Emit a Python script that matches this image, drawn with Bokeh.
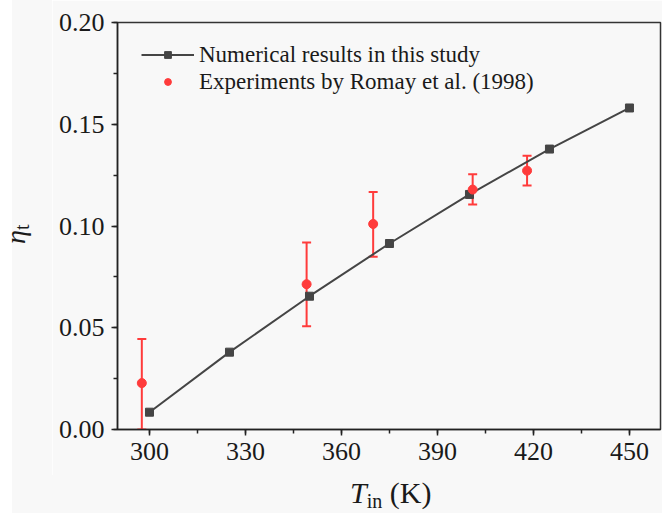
from bokeh.plotting import figure
from bokeh.models import (ColumnDataSource, Whisker, TeeHead, Legend, LegendItem, Div,
                          SingleIntervalTicker, NumeralTickFormatter, Range1d, Spacer)
from bokeh.layouts import column, row
from bokeh.embed import file_html
from bokeh.resources import INLINE

# Numerical results in this study
num_T = [300, 325, 350, 375, 400, 425, 450]
num_eta = [0.0085, 0.038, 0.0655, 0.0914, 0.1155, 0.1378, 0.158]

# Experiments by Romay et al. (1998)
exp_T = [297.6, 349.1, 369.9, 401.0, 418.0]
exp_eta = [0.0228, 0.0714, 0.1010, 0.1179, 0.1272]
exp_upper = [0.0445, 0.0919, 0.1167, 0.1254, 0.1345]
exp_lower = [0.0, 0.0507, 0.0849, 0.1106, 0.1199]

legend_labels = ["Numerical results in this study", "Experiments by Romay et al. (1998)"]

BG = "#f8f8f8"
RED = "#ff3b3b"
GREY = "#454545"
TXT = "#1a1a1a"
SERIF = "Liberation Serif"

num_src = ColumnDataSource(dict(T=num_T, eta=num_eta))
exp_src = ColumnDataSource(dict(T=exp_T, eta=exp_eta, upper=exp_upper, lower=exp_lower))

p = figure(width=610, height=475, output_backend="svg", toolbar_location=None,
           x_range=Range1d(290, 459.7), y_range=Range1d(0, 0.2),
           min_border_left=65, min_border_right=2, min_border_top=22, min_border_bottom=46,
           margin=0)
p.background_fill_color = BG
p.border_fill_color = BG
p.outline_line_color = "#333333"
p.outline_line_width = 1.5
p.xgrid.visible = False
p.ygrid.visible = False

p.xaxis.ticker = SingleIntervalTicker(interval=30, num_minor_ticks=2)
p.yaxis.ticker = SingleIntervalTicker(interval=0.05, num_minor_ticks=2)
p.xaxis.formatter = NumeralTickFormatter(format="0")
p.yaxis.formatter = NumeralTickFormatter(format="0.00")
for ax in (p.xaxis, p.yaxis):
    ax.axis_line_color = "#222222"
    ax.axis_line_width = 1.5
    ax.major_tick_line_color = "#222222"
    ax.minor_tick_line_color = "#222222"
    ax.major_tick_line_width = 1.5
    ax.minor_tick_line_width = 1.5
    ax.major_tick_in = 0
    ax.minor_tick_in = 0
    ax.major_tick_out = 6
    ax.minor_tick_out = 4
    ax.major_label_text_font = SERIF
    ax.major_label_text_font_size = "26px"
    ax.major_label_text_color = TXT
p.xaxis.major_label_standoff = 7
p.yaxis.major_label_standoff = 7

line_r = p.line("T", "eta", source=num_src, line_color=GREY, line_width=2)
sq_r = p.scatter("T", "eta", source=num_src, marker="square", size=8,
                 fill_color=GREY, line_color=GREY)
dot_r = p.scatter("T", "eta", source=exp_src, marker="circle", size=9,
                  fill_color=RED, line_color=RED)

wh = Whisker(source=exp_src, base="T", upper="upper", lower="lower",
             line_color=RED, line_width=2,
             upper_head=TeeHead(size=9, line_color=RED, line_width=2),
             lower_head=TeeHead(size=9, line_color=RED, line_width=2))
p.add_layout(wh)

legend = Legend(items=[LegendItem(label=legend_labels[0], renderers=[line_r, sq_r]),
                       LegendItem(label=legend_labels[1], renderers=[dot_r])],
                location=(20, 330), padding=4, spacing=0, margin=0,
                glyph_width=53, glyph_height=17, label_height=27, label_standoff=5,
                label_text_font=SERIF, label_text_font_size="23px", label_text_color=TXT,
                background_fill_alpha=0, border_line_alpha=0)
p.add_layout(legend)

# axis titles as rich HTML text
ydiv = Div(width=40, height=513, margin=0, styles={"background-color": BG},
           text=("<div style=\"position:relative;width:40px;height:513px;\">"
                 "<span style=\"position:absolute;left:0;top:0;white-space:nowrap;"
                 "font-family:'Liberation Serif';font-size:28px;line-height:1;color:#1a1a1a;"
                 "transform-origin:0 0;transform:translate(-10.5px,244px) rotate(-90deg);\">"
                 "<i>η</i><span style=\"font-size:20px;vertical-align:-4px;\">t</span>"
                 "</span></div>"))
xdiv = Div(width=610, height=38, margin=0, styles={"background-color": BG},
           text=("<div style=\"position:relative;width:610px;height:38px;\">"
                 "<span style=\"position:absolute;left:298px;top:3px;white-space:nowrap;"
                 "font-family:'Liberation Serif';font-size:30px;line-height:1;color:#1a1a1a;\">"
                 "<i>T</i><span style=\"font-size:20px;vertical-align:-5px;\">in</span> (K)"
                 "</span></div>"))

layout = row(Spacer(width=12, margin=0), ydiv, column(p, xdiv, spacing=0, margin=0),
             spacing=0, margin=0)

open("out.html", "w").write(file_html(layout, INLINE))
